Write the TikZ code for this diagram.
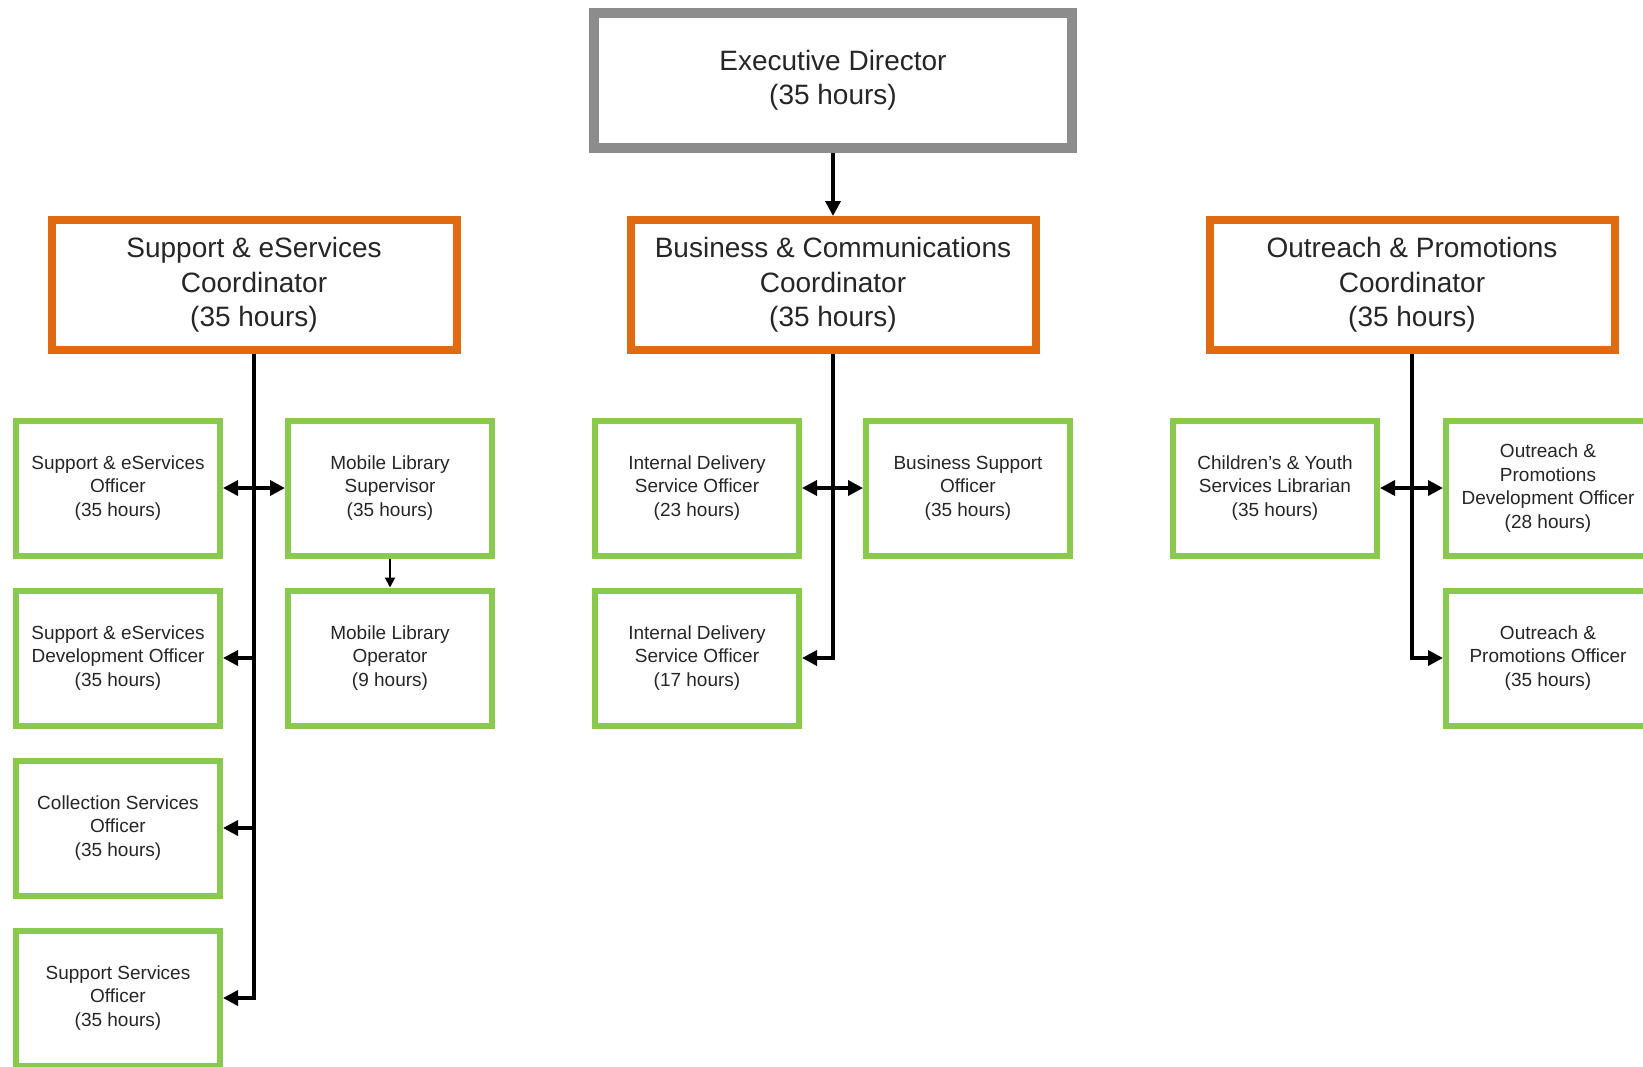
\documentclass[tikz,border=0pt]{standalone}
\usepackage{fontspec}
\setmainfont{Liberation Sans}
\usetikzlibrary{positioning,arrows.meta}
\definecolor{chartgray}{RGB}{140,140,140}
\definecolor{chartorange}{RGB}{224,106,16}
\definecolor{chartgreen}{RGB}{137,201,78}

\tikzset{
  headbox/.style={draw=chartgray, line width=10pt, fill=white, minimum width=478pt, minimum height=135pt,
    inner sep=0pt, align=center, text=black!85, font=\fontsize{28}{34.5}\selectfont},
  leadbox/.style={draw=chartorange, line width=8pt, fill=white, minimum width=405pt, minimum height=130pt,
    inner sep=0pt, align=center, text=black!85, font=\fontsize{28}{34.5}\selectfont},
  staffbox/.style={draw=chartgreen, line width=6pt, fill=white, minimum width=204pt, minimum height=135pt,
    inner sep=0pt, align=center, text=black!85, font=\fontsize{19}{23.5}\selectfont},
  link/.style={line width=3.5pt, -{Triangle[length=15pt,width=15pt]}},
  bilink/.style={line width=3.5pt, {Triangle[length=15pt,width=15pt]}-{Triangle[length=15pt,width=15pt]}},
  smalllink/.style={line width=2pt, -{Triangle[length=10pt,width=10pt]}}
}

\begin{document}
\begin{tikzpicture}[x=1pt, y=-1pt]
            \clip (0,0) rectangle (1643,1066);
            \fill[white] (0,0) rectangle (1643,1066);

            % Rows of staff boxes
            \def\rowA{488}
            \def\rowB{658}
            \def\rowC{828}
            \def\rowD{998}

            % Top of the chart
            \node[headbox] (exec) at (833,80) {Executive Director\\(35 hours)};

            % Coordinators
            \node[leadbox] (supc) at (254,285) {Support \& eServices\\Coordinator\\(35 hours)};
            \node[leadbox] (busc) at (833,285) {Business \& Communications\\Coordinator\\(35 hours)};
            \node[leadbox] (outc) at (1412,285) {Outreach \& Promotions\\Coordinator\\(35 hours)};

            % Support & eServices team
            \node[staffbox] (seo) at (118,\rowA) {Support \& eServices\\Officer\\(35 hours)};
            \node[staffbox] (sdo) at (118,\rowB) {Support \& eServices\\Development Officer\\(35 hours)};
            \node[staffbox] (cso) at (118,\rowC) {Collection Services\\Officer\\(35 hours)};
            \node[staffbox] (sso) at (118,\rowD) {Support Services\\Officer\\(35 hours)};
            \node[staffbox] (mls) at (390,\rowA) {Mobile Library\\Supervisor\\(35 hours)};
            \node[staffbox] (mlo) at (390,\rowB) {Mobile Library\\Operator\\(9 hours)};

            % Business & Communications team
            \node[staffbox] (idA) at (697,\rowA) {Internal Delivery\\Service Officer\\(23 hours)};
            \node[staffbox] (idB) at (697,\rowB) {Internal Delivery\\Service Officer\\(17 hours)};
            \node[staffbox] (bso) at (968,\rowA) {Business Support\\Officer\\(35 hours)};

            % Outreach & Promotions team
            \node[staffbox] (cyl) at (1275,\rowA) {Children's \& Youth\\Services Librarian\\(35 hours)};
            \node[staffbox] (opd) at (1548,\rowA) {Outreach \&\\Promotions\\Development Officer\\(28 hours)};
            \node[staffbox] (opo) at (1548,\rowB) {Outreach \&\\Promotions Officer\\(35 hours)};

            % Connectors
            \draw[link] (exec.south) -- (busc.north);

            \draw[link] (supc.south) |- (sso.east);
            \draw[link] (supc.south) |- (cso.east);
            \draw[link] (supc.south) |- (sdo.east);
            \draw[bilink] (seo.east) -- (mls.west);
            \draw[smalllink] (mls.south) -- (mlo.north);

            \draw[link] (busc.south) |- (idB.east);
            \draw[bilink] (idA.east) -- (bso.west);

            \draw[link] (outc.south) |- (opo.west);
            \draw[bilink] (cyl.east) -- (opd.west);

\end{tikzpicture}
\end{document}
